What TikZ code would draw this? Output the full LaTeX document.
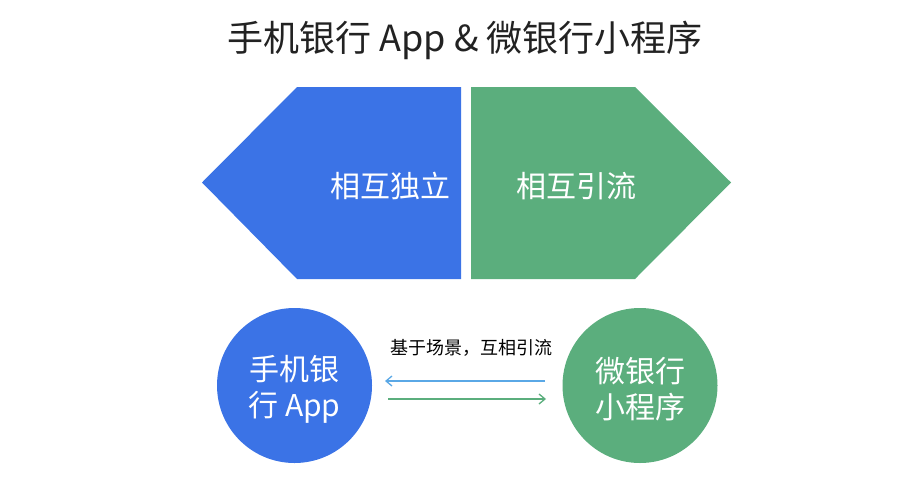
\documentclass[tikz,border=0pt]{standalone}
\usepackage{fontspec}
\setmainfont{Noto Sans CJK SC}
\usetikzlibrary{arrows.meta}
\definecolor{cblue}{RGB}{59,115,230}
\definecolor{cgreen}{RGB}{91,174,125}
\definecolor{cablue}{RGB}{90,168,230}
\definecolor{ctitle}{RGB}{34,34,34}
\tikzset{
  wtext/.style={text=white,font=\fontsize{30}{36}\selectfont,inner sep=0pt},
  circ/.style={circle,minimum size=155pt,inner sep=0pt},
  ctext/.style={text=white,align=center,inner sep=0pt,font=\fontsize{30}{36}\selectfont},
  conn/.style={line width=1.3pt,-{Straight Barb[length=6pt,width=10pt]}}
}
\begin{document}
\begin{tikzpicture}[x=1pt,y=-1pt]
\useasboundingbox (0,0) rectangle (909,487);
\node[text=ctitle,font=\fontsize{36}{42}\selectfont,inner sep=0pt] (title) at (465,40) {手机银行 App \& 微银行小程序};
\fill[cblue] (202,182.5) -- (297,87) -- (461,87) -- (461,279) -- (297,279) -- cycle;
\fill[cgreen] (471,87) -- (635,87) -- (731,182.5) -- (635,279) -- (471,279) -- cycle;
\node[wtext] (indep) at (390.5,186) {相互独立};
\node[wtext] (flow) at (576,186) {相互引流};
\node[circ,fill=cblue] (app) at (294.5,385.5) {};
\node[circ,fill=cgreen] (mini) at (640,385.5) {};
\node[ctext] (apptxt) at ([yshift=-4pt]app.center) {手机银\\行 App};
\node[ctext] (minitxt) at ([yshift=-4pt]mini.center) {微银行\\小程序};
\node[font=\fontsize{18}{20}\selectfont,text=black,inner sep=0pt] (lbl) at (471,348) {基于场景，互相引流};
\coordinate (b1) at (545,381);
\coordinate (b2) at (385,381);
\coordinate (g1) at (388,399);
\coordinate (g2) at (546,399);
\draw[conn,cablue] (b1) -- (b2);
\draw[conn,cgreen] (g1) -- (g2);
\end{tikzpicture}
\end{document}
